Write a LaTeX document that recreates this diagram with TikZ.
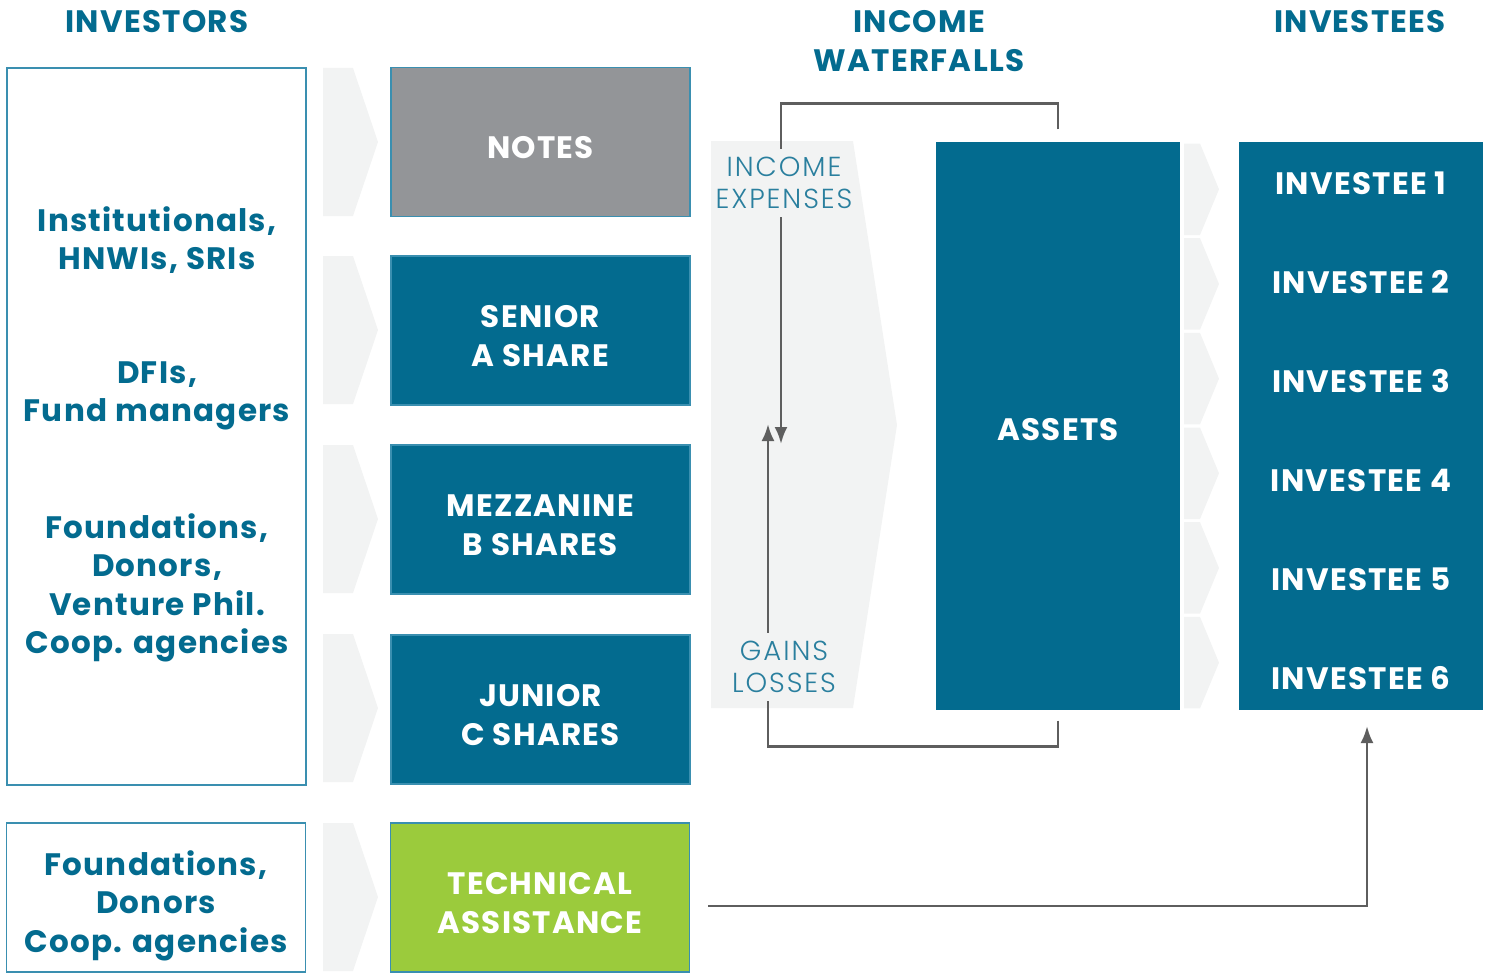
\documentclass[tikz,border=0pt]{standalone}
\usepackage{fontspec}
\setmainfont{Poppins}[LetterSpace=4]
\newfontfamily\thinfont{Poppins Light}[LetterSpace=7]
\usetikzlibrary{arrows.meta}

\definecolor{fundblue}{HTML}{036B8F}
\definecolor{fundedge}{HTML}{3A8FB0}
\definecolor{notegray}{HTML}{939598}
\definecolor{tagreen}{HTML}{9BCB3C}
\definecolor{chevgray}{HTML}{F2F3F3}
\definecolor{flowgray}{HTML}{5E5E5E}
\definecolor{waterteal}{HTML}{2A7F9E}

\tikzset{
  head/.style={text=fundblue, align=center, inner sep=0pt},
  tranche/.style={draw=fundedge, line width=1.2pt, fill=fundblue,
    minimum width=299, minimum height=149, inner sep=0pt},
  boxtext/.style={text=white, align=center, inner sep=0pt, yshift=-5.5pt},
  investorbox/.style={draw=fundedge, line width=1.2pt, minimum width=299, inner sep=0pt},
  investortext/.style={text=fundblue, align=center, inner sep=0pt},
  chev/.style={fill=chevgray},
  flow/.style={draw=flowgray, line width=2.8pt},
  tip/.style={-{Latex[length=17pt,width=13pt]}},
  water/.style={text=waterteal, align=center, font=\thinfont\mdseries\fontsize{27.5}{32}\selectfont,
    inner sep=0pt, minimum height=68},
}

\begin{document}
\begin{tikzpicture}[x=1pt,y=-1pt,font=\bfseries\fontsize{31}{38.5}\selectfont]
    \useasboundingbox (0,0) rectangle (1488,974);

    % --- Headers ---
    \node[head] (hInvestors) at (157,22) {INVESTORS};
    \node[head] (hWater) at (919,41) {INCOME\\WATERFALLS};
    \node[head] (hInvestees) at (1360,22) {INVESTEES};

    % --- Chevrons ---
    \foreach \t in {68,256,445,634,823}
      \fill[chev] (323,\t) -- (353,\t) -- (378,\t+74) -- (353,\t+148) -- (323,\t+148) -- cycle;
    \fill[chev] (711,141) -- (853,141) -- (897,425) -- (853,708) -- (711,708) -- cycle;
    \foreach \k in {0,...,5}
      \fill[chev] (1184,{143.5+94.67*\k}) -- (1200,{143.5+94.67*\k}) -- (1219,{189.3+94.67*\k})
        -- (1200,{235+94.67*\k}) -- (1184,{235+94.67*\k}) -- cycle;

    % --- Investors ---
    \node[investorbox, minimum height=717] (investors) at (156.5,426.5) {};
    \node[investortext] (inst) at (157,240) {Institutionals,\\HNWIs, SRIs};
    \node[investortext] (dfi) at (157,396) {DFIs,\\Fund managers};
    \node[investortext] (found) at (157,588) {Foundations,\\Donors,\\Venture Phil.\\Coop. agencies};
    \node[investorbox, minimum height=149] (donors) at (156,897.5) {};
    \node[investortext] (donortext) at (156,905.5) {Foundations,\\Donors\\Coop. agencies};

    % --- Tranches ---
    \node[tranche, fill=notegray, label={[boxtext]center:NOTES}] (notes) at (540.5,142) {};
    \node[tranche, label={[boxtext]center:{SENIOR\\A SHARE}}] (senior) at (540.5,330.5) {};
    \node[tranche, label={[boxtext]center:{MEZZANINE\\B SHARES}}] (mezz) at (540.5,519.5) {};
    \node[tranche, label={[boxtext]center:{JUNIOR\\C SHARES}}] (junior) at (540.5,709.5) {};
    \node[tranche, fill=tagreen, label={[boxtext]center:{TECHNICAL\\ASSISTANCE}}] (ta) at (540,897.5) {};

    % --- Assets and investees ---
    \node[tranche, draw=none, minimum width=244, minimum height=568,
      label={[boxtext, yshift=1.5pt]center:ASSETS}] (assets) at (1058,426) {};
    \node[tranche, draw=none, minimum width=244, minimum height=568] (investees) at (1361,426) {};
    \foreach \k in {1,...,6}
      \node[text=white] (inv\k) at (1361,{84+99*\k}) {INVESTEE \k};

    % --- Waterfall ---
    \node[water] (incexp) at (784,183) {INCOME\\EXPENSES};
    \node[water] (gainloss) at (784,667) {GAINS\\LOSSES};
    \coordinate (downtip) at (781,444);
    \coordinate (uptip) at (768,424);
    \coordinate (taTip) at (1367,726);

    \draw[flow] ([yshift=12pt]assets.north) -- ++(0,-26) -| (incexp.north -| downtip);
    \draw[flow,tip] (incexp.south -| downtip) -- (downtip);
    \draw[flow] ([yshift=-10pt]assets.south) -- ++(0,26) -| (gainloss.south -| uptip);
    \draw[flow,tip] (gainloss.north -| uptip) -- (uptip);

    % --- Technical assistance ---
    \draw[flow,tip] ([shift={(18,8.5)}]ta.east) -| (taTip);

  \end{tikzpicture}
\end{document}
